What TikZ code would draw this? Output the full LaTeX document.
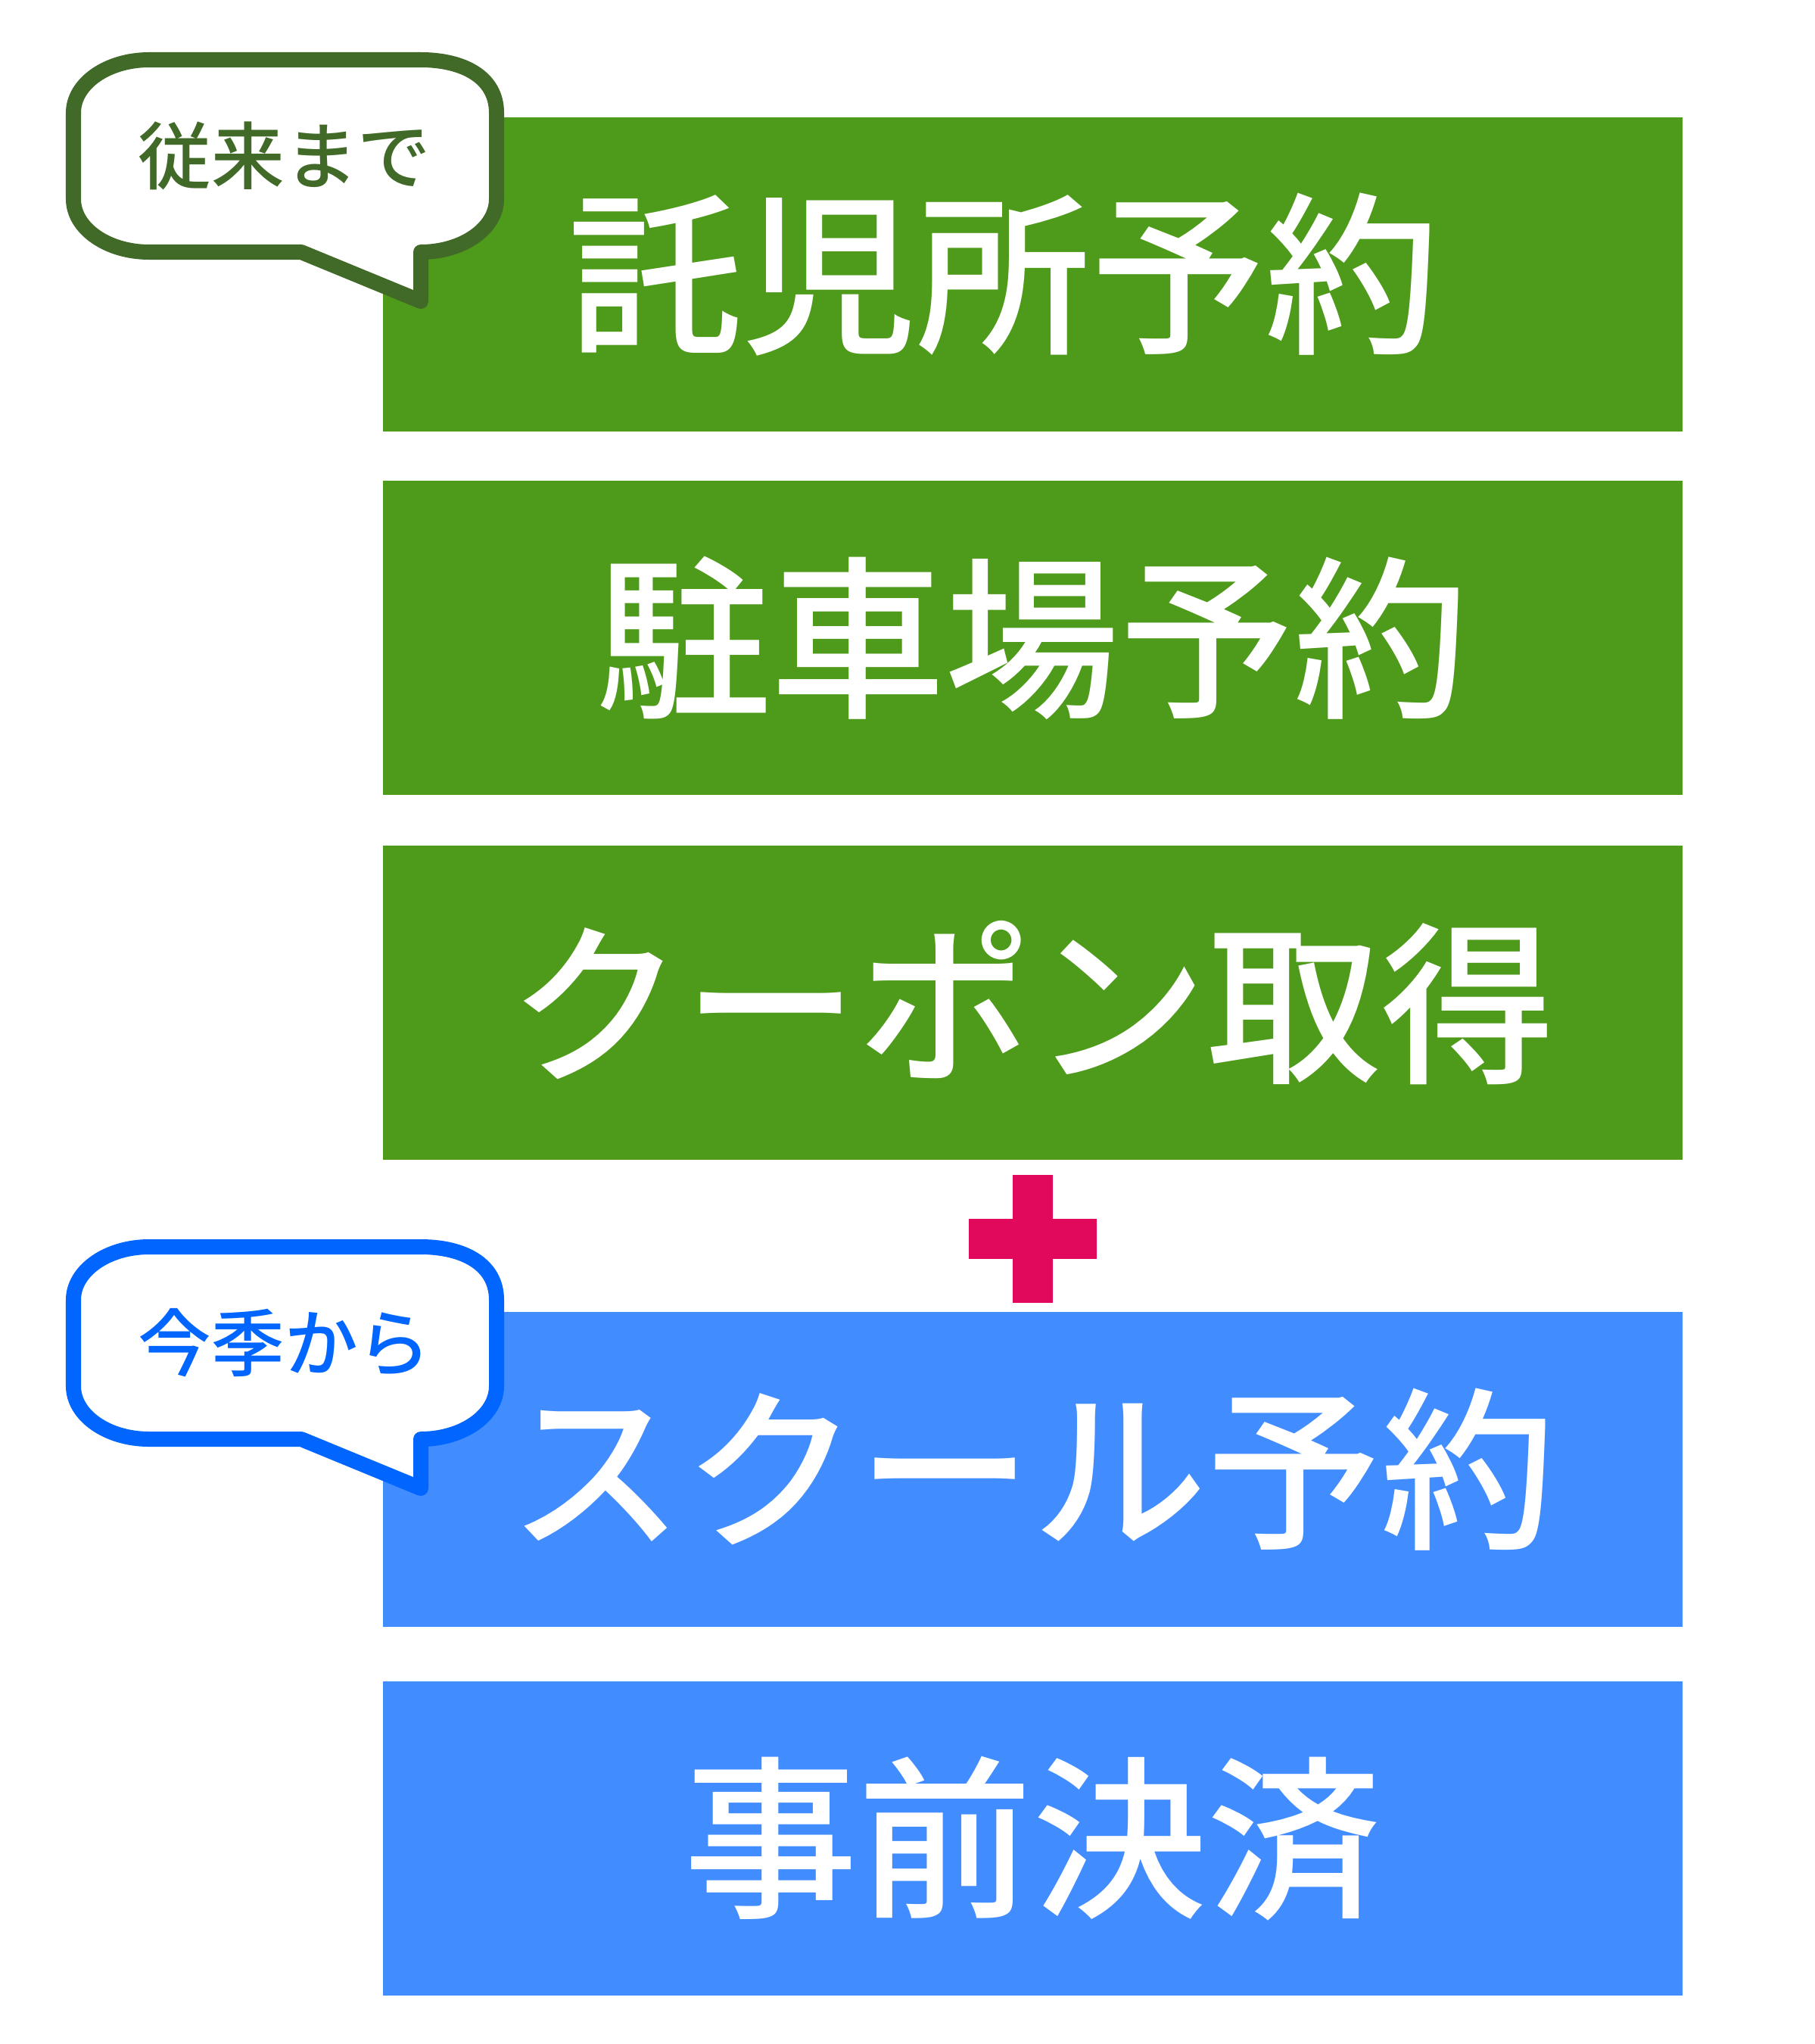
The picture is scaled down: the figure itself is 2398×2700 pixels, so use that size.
\documentclass[tikz,border=0pt]{standalone}
\usepackage{fontspec}
\newfontfamily\jpfont{Noto Sans CJK JP Medium}
\definecolor{boxgreen}{RGB}{78,154,26}
\definecolor{darkgreen}{RGB}{65,105,40}
\definecolor{boxblue}{RGB}{65,140,255}
\definecolor{strokeblue}{RGB}{0,102,255}
\definecolor{plusred}{RGB}{224,9,92}
\begin{document}
\begin{tikzpicture}[x=0.01cm,y=-0.01cm,
  box/.style={draw=none, inner sep=0pt, minimum width=17.16cm, minimum height=4.15cm,
    text=white, font=\jpfont\fontsize{65.5}{65.5}\selectfont},
  bubble/.style={fill=white, line width=0.2cm, line join=round},
  bubbletext/.style={inner sep=0pt, font=\jpfont\fontsize{27.5}{27.5}\selectfont}]
\fill[white] (0,0) rectangle (2398,2700);
\useasboundingbox (0,0) rectangle (2398,2700);

\node[box, fill=boxgreen] (b1) at (1364,362.5) {託児所予約\hspace*{0.76cm}};
\node[box, fill=boxgreen] (b2) at (1364,842.5) {駐車場予約};
\node[box, fill=boxgreen] (b3) at (1364,1324.5) {クーポン取得};
\node[box, fill=boxblue] (b4) at (1364,1941) {スクール予約};
\node[box, fill=boxblue] (b5) at (1364,2428.5) {事前決済};

\fill[plusred] (1338,1552) rectangle (1391,1721);
\fill[plusred] (1280,1610) rectangle (1449,1663);

\draw[bubble, draw=darkgreen] (197,79) -- (556,79) .. controls (611.2,79) and (656,101.3) .. (656,149)
  -- (656,263) .. controls (656,301.7) and (611.2,333) .. (556,333) -- (556,398) -- (398,333)
  -- (197,333) .. controls (141.8,333) and (97,301.7) .. (97,263) -- (97,149)
  .. controls (97,110.3) and (141.8,79) .. (197,79) -- cycle;
\node[bubbletext, text=darkgreen] (t1) at (376,206) {従来まで};

\begin{scope}[shift={(0,1568)}]
\draw[bubble, draw=strokeblue] (197,79) -- (556,79) .. controls (611.2,79) and (656,101.3) .. (656,149)
  -- (656,263) .. controls (656,301.7) and (611.2,333) .. (556,333) -- (556,398) -- (398,333)
  -- (197,333) .. controls (141.8,333) and (97,301.7) .. (97,263) -- (97,149)
  .. controls (97,110.3) and (141.8,79) .. (197,79) -- cycle;
\node[bubbletext, text=strokeblue] (t2) at (376,206) {今季から};
\end{scope}
\end{tikzpicture}
\end{document}
